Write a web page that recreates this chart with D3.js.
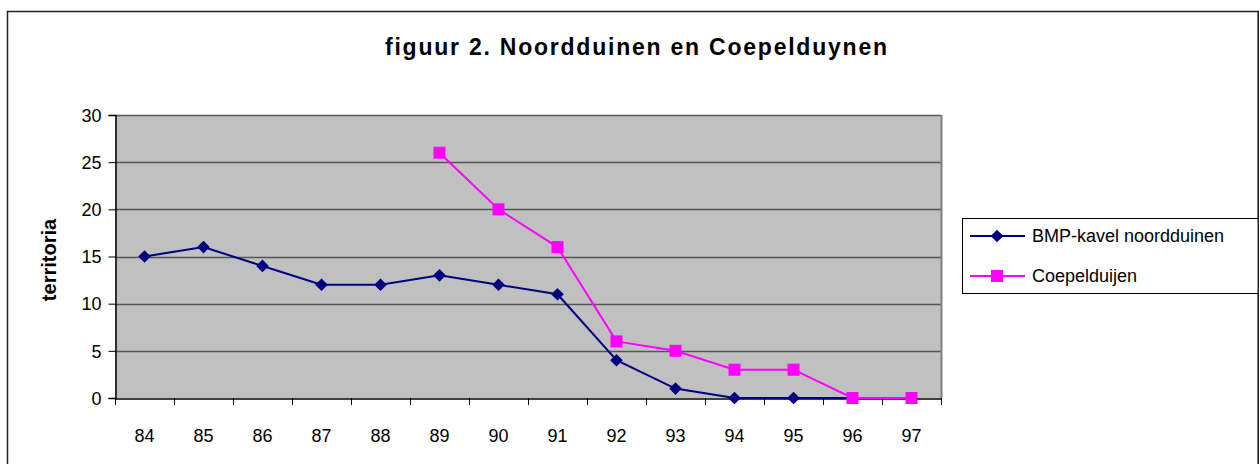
<!DOCTYPE html>
<html>
<head>
<meta charset="utf-8">
<script src="https://cdn.jsdelivr.net/npm/d3@7"></script>
<style>
  body { margin: 0; background: #fff; }
  svg text { font-family: Arial, "Liberation Sans", sans-serif; fill: #000; }
</style>
</head>
<body>
<div id="plot"></div>
<script>
// data
var years = ['84','85','86','87','88','89','90','91','92','93','94','95','96','97'];
var bmp = [15, 16, 14, 12, 12, 13, 12, 11, 4, 1, 0, 0, 0, 0];
var coepelYears = ['89','90','91','92','93','94','95','96','97'];
var coepel = [26, 20, 16, 6, 5, 3, 3, 0, 0];
var yTicks = [0, 5, 10, 15, 20, 25, 30];

var W = 1259, H = 464;

var svg = d3.select('#plot')
  .append('svg')
  .attr('width', W)
  .attr('height', H);

// outer chart frame (bottom runs off the page)
svg.append('rect')
  .attr('x', 7.5)
  .attr('y', 11.5)
  .attr('width', 1251)
  .attr('height', 470)
  .style('fill', '#fff')
  .style('stroke', '#222')
  .style('stroke-width', 1.5);

// plot area
var pLeft = 115, pRight = 941, pTop = 115, pBottom = 398;

var x = d3.scaleBand().domain(years).range([pLeft, pRight]);
var y = d3.scaleLinear().domain([0, 30]).range([pBottom, pTop]);

svg.append('rect')
  .attr('x', pLeft)
  .attr('y', pTop)
  .attr('width', pRight - pLeft)
  .attr('height', pBottom - pTop)
  .style('fill', '#c0c0c0');

// gridlines
svg.selectAll('.grid')
  .data(yTicks.filter(function(d){ return d > 0; }))
  .enter()
  .append('line')
  .attr('x1', pLeft)
  .attr('x2', pRight)
  .attr('y1', function(d){ return Math.round(y(d)) + 0.5; })
  .attr('y2', function(d){ return Math.round(y(d)) + 0.5; })
  .style('stroke', '#555')
  .style('stroke-width', 1.5);

// right border of plot
svg.append('line')
  .attr('x1', pRight + 0.5).attr('x2', pRight + 0.5)
  .attr('y1', pTop).attr('y2', pBottom)
  .style('stroke', '#808080')
  .style('stroke-width', 2);

// y axis
var yAxis = svg.append('g')
  .attr('transform', 'translate(' + (pLeft + 0.5) + ',0)')
  .call(d3.axisLeft(y).tickValues(yTicks).tickSize(7).tickPadding(7));
yAxis.select('.domain').style('stroke', '#000').style('stroke-width', 1.5);
yAxis.selectAll('.tick line').style('stroke', '#000');
yAxis.selectAll('.tick text').style('font-size', '18px').attr('dy', '0.35em');

// x axis, ticks between categories
var xAxis = svg.append('g')
  .attr('transform', 'translate(0,' + (pBottom + 0.5) + ')')
  .call(d3.axisBottom(x).tickSize(0).tickPadding(31));
xAxis.select('.domain').style('stroke', '#000').style('stroke-width', 1.5);
xAxis.selectAll('.tick text').style('font-size', '18px');

var edges = years.map(function(d){ return x(d); }).concat([pRight]);
svg.selectAll('.xtick')
  .data(edges)
  .enter()
  .append('line')
  .attr('x1', function(d){ return Math.round(d) + 0.5; })
  .attr('x2', function(d){ return Math.round(d) + 0.5; })
  .attr('y1', pBottom)
  .attr('y2', pBottom + 7)
  .style('stroke', '#000');

var line = d3.line()
  .x(function(d){ return x(d[0]) + x.bandwidth() / 2; })
  .y(function(d){ return y(d[1]); });

var bmpPts = years.map(function(d, i){ return [d, bmp[i]]; });
var coepelPts = coepelYears.map(function(d, i){ return [d, coepel[i]]; });

// BMP series
svg.append('path')
  .datum(bmpPts)
  .attr('d', line)
  .style('fill', 'none')
  .style('stroke', '#000080')
  .style('stroke-width', 2);

svg.selectAll('.bmp')
  .data(bmpPts)
  .enter()
  .append('path')
  .attr('d', d3.symbol().type(d3.symbolSquare).size(80))
  .attr('transform', function(d){
    return 'translate(' + (x(d[0]) + x.bandwidth() / 2) + ',' + y(d[1]) + ') rotate(45)';
  })
  .style('fill', '#000080');

// Coepel series
svg.append('path')
  .datum(coepelPts)
  .attr('d', line)
  .style('fill', 'none')
  .style('stroke', '#ff00ff')
  .style('stroke-width', 2);

svg.selectAll('.coepel')
  .data(coepelPts)
  .enter()
  .append('rect')
  .attr('x', function(d){ return x(d[0]) + x.bandwidth() / 2 - 6; })
  .attr('y', function(d){ return y(d[1]) - 6; })
  .attr('width', 12)
  .attr('height', 12)
  .style('fill', '#ff00ff');

// title
svg.append('text')
  .attr('x', 636)
  .attr('y', 55)
  .attr('text-anchor', 'middle')
  .attr('textLength', 502)
  .attr('lengthAdjust', 'spacing')
  .style('font-size', '23px')
  .style('font-weight', 'bold')
  .text('figuur 2. Noordduinen en Coepelduynen');

// y label
svg.append('text')
  .attr('transform', 'translate(56,260) rotate(-90)')
  .attr('text-anchor', 'middle')
  .style('font-size', '20px')
  .style('font-weight', 'bold')
  .text('territoria');

// legend
var legend = svg.append('g');
legend.append('rect')
  .attr('x', 962.5)
  .attr('y', 218.5)
  .attr('width', 300)
  .attr('height', 75)
  .style('fill', '#fff')
  .style('stroke', '#000')
  .style('stroke-width', 1);

legend.append('line')
  .attr('x1', 970).attr('x2', 1025)
  .attr('y1', 236).attr('y2', 236)
  .style('stroke', '#000080').style('stroke-width', 2);
legend.append('path')
  .attr('d', d3.symbol().type(d3.symbolSquare).size(80))
  .attr('transform', 'translate(997,236) rotate(45)')
  .style('fill', '#000080');
legend.append('text')
  .attr('x', 1032).attr('y', 242)
  .style('font-size', '18px')
  .text('BMP-kavel noordduinen');

legend.append('line')
  .attr('x1', 970).attr('x2', 1025)
  .attr('y1', 276).attr('y2', 276)
  .style('stroke', '#ff00ff').style('stroke-width', 2);
legend.append('rect')
  .attr('x', 991).attr('y', 270)
  .attr('width', 12).attr('height', 12)
  .style('fill', '#ff00ff');
legend.append('text')
  .attr('x', 1032).attr('y', 282)
  .style('font-size', '18px')
  .text('Coepelduijen');

// frame right edge over legend
svg.append('line')
  .attr('x1', 1258.25).attr('x2', 1258.25)
  .attr('y1', 11).attr('y2', H)
  .style('stroke', '#222').style('stroke-width', 1.5);
</script>
</body>
</html>
